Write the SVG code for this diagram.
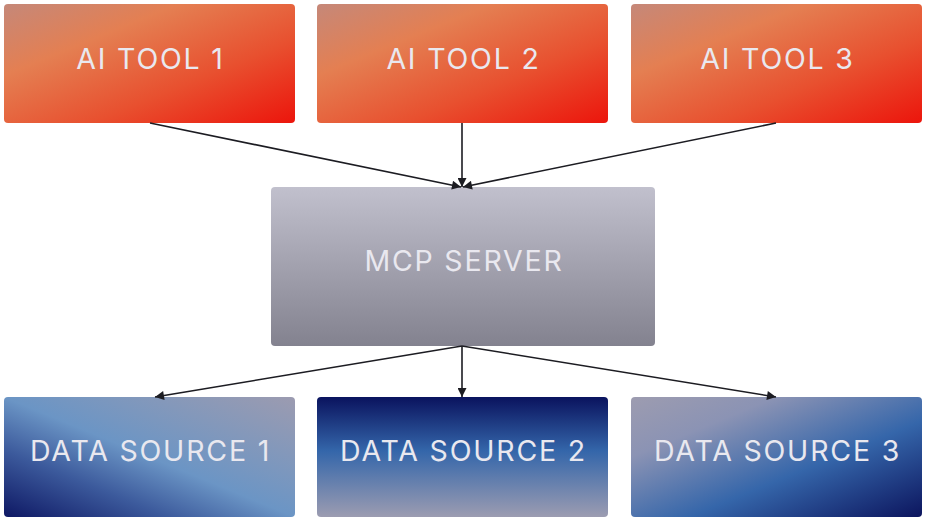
<svg xmlns="http://www.w3.org/2000/svg" width="925" height="522" viewBox="0 0 925 522">
<style>
  .lbl{font-family:Inter,"Liberation Sans",sans-serif;font-size:28.5px;fill:#e9e8ef;text-anchor:middle;letter-spacing:1.8px}
  .edge{stroke:#1c1c22;stroke-width:1.6;fill:none;marker-end:url(#ah)}
</style>
<defs>
  <marker id="ah" viewBox="0 0 10 10" refX="10" refY="5" markerWidth="10" markerHeight="9" markerUnits="userSpaceOnUse" orient="auto">
    <path d="M0,0 L10,5 L0,10 Z" fill="#1c1c22"/>
  </marker>
  <linearGradient id="gAI" x1="0" y1="0" x2="1" y2="1">
    <stop offset="0" stop-color="#c58879"/>
    <stop offset="0.3" stop-color="#e47f52"/>
    <stop offset="0.65" stop-color="#e8502f"/>
    <stop offset="1" stop-color="#ec150c"/>
  </linearGradient>
  <linearGradient id="gMCP" x1="0" y1="0" x2="0" y2="1">
    <stop offset="0" stop-color="#c1c0cd"/>
    <stop offset="1" stop-color="#83828f"/>
  </linearGradient>
  <linearGradient id="gDS1" x1="0" y1="1" x2="1" y2="0">
    <stop offset="0" stop-color="#0e1864"/>
    <stop offset="0.28" stop-color="#3c5a9c"/>
    <stop offset="0.5" stop-color="#6b95c5"/>
    <stop offset="1" stop-color="#9c9bb0"/>
  </linearGradient>
  <linearGradient id="gDS2" x1="0" y1="0" x2="0" y2="1">
    <stop offset="0" stop-color="#0a135e"/>
    <stop offset="0.45" stop-color="#3466aa"/>
    <stop offset="1" stop-color="#9c9cb1"/>
  </linearGradient>
  <linearGradient id="gDS3" x1="0" y1="0" x2="1" y2="1">
    <stop offset="0" stop-color="#9d9cb0"/>
    <stop offset="0.25" stop-color="#8b93b4"/>
    <stop offset="0.6" stop-color="#3566aa"/>
    <stop offset="1" stop-color="#0c155e"/>
  </linearGradient>
</defs>

<g id="ai-tool-1">
  <rect x="4" y="4" width="291" height="119" rx="4" fill="url(#gAI)"/>
  <text class="lbl" x="150.5" y="69">AI TOOL 1</text>
</g>
<g id="ai-tool-2">
  <rect x="317" y="4" width="291" height="119" rx="4" fill="url(#gAI)"/>
  <text class="lbl" x="463.5" y="69">AI TOOL 2</text>
</g>
<g id="ai-tool-3">
  <rect x="631" y="4" width="291" height="119" rx="4" fill="url(#gAI)"/>
  <text class="lbl" x="777.5" y="69">AI TOOL 3</text>
</g>
<g id="mcp-server">
  <rect x="271" y="187" width="384" height="159" rx="4" fill="url(#gMCP)"/>
  <text class="lbl" x="464" y="271">MCP SERVER</text>
</g>
<g id="data-source-1">
  <rect x="4" y="397" width="291" height="120" rx="4" fill="url(#gDS1)"/>
  <text class="lbl" x="150.5" y="461">DATA SOURCE 1</text>
</g>
<g id="data-source-2">
  <rect x="317" y="397" width="291" height="120" rx="4" fill="url(#gDS2)"/>
  <text class="lbl" x="463.5" y="461">DATA SOURCE 2</text>
</g>
<g id="data-source-3">
  <rect x="631" y="397" width="291" height="120" rx="4" fill="url(#gDS3)"/>
  <text class="lbl" x="777.5" y="461">DATA SOURCE 3</text>
</g>

<g id="connectors">
  <line class="edge" x1="150" y1="123" x2="461" y2="187"/>
  <line class="edge" x1="462" y1="123" x2="462" y2="187"/>
  <line class="edge" x1="776" y1="123" x2="463" y2="187"/>
  <line class="edge" x1="462" y1="346" x2="155" y2="397"/>
  <line class="edge" x1="462" y1="346" x2="462" y2="397"/>
  <line class="edge" x1="462" y1="346" x2="776" y2="397"/>
</g>
</svg>
